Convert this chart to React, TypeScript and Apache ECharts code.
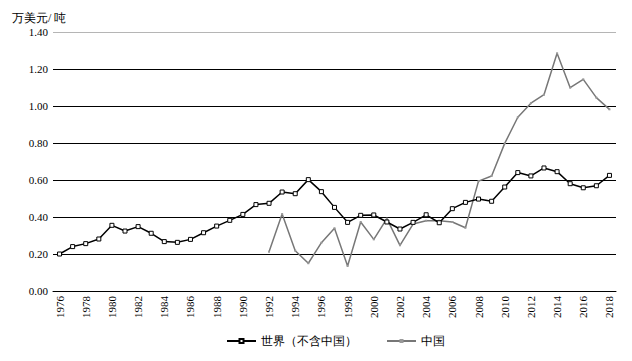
import React, { useEffect, useRef } from "react";
import * as echarts from "echarts";

const years: string[] = [];
for (let y = 1976; y <= 2018; y++) years.push(String(y));

const worldName = "世界（不含中国）";
const chinaName = "中国";

const worldValues = [
  0.20, 0.24, 0.256, 0.281, 0.355, 0.324, 0.348, 0.312, 0.267, 0.263,
  0.279, 0.315, 0.351, 0.382, 0.414, 0.467, 0.474, 0.535, 0.526, 0.602,
  0.537, 0.452, 0.371, 0.409, 0.411, 0.373, 0.335, 0.371, 0.412, 0.369,
  0.445, 0.479, 0.497, 0.485, 0.562, 0.640, 0.622, 0.665, 0.645, 0.58,
  0.558, 0.569, 0.625,
];

const chinaValues: (number | null)[] = [
  null, null, null, null, null, null, null, null, null, null,
  null, null, null, null, null, null, 0.212, 0.416, 0.218, 0.150,
  0.261, 0.339, 0.135, 0.373, 0.279, 0.391, 0.247, 0.362, 0.38, 0.38,
  0.373, 0.342, 0.594, 0.622, 0.798, 0.939, 1.015, 1.061, 1.285, 1.099,
  1.144, 1.045, 0.982,
];

const yTicks = [0, 0.2, 0.4, 0.6, 0.8, 1.0, 1.2, 1.4];

const FONT = "Liberation Serif";

export default function App() {
  const ref = useRef<HTMLDivElement>(null);
  useEffect(() => {
    if (!ref.current) return;
    const chart = echarts.init(ref.current, undefined, { renderer: "svg" });
    chart.setOption({
      animation: false,
      textStyle: { fontFamily: FONT, color: "#000" },
      grid: { left: 53, right: 16, top: 32, bottom: 70 },
      legend: {
        bottom: 9,
        left: 221,
        itemWidth: 29,
        itemHeight: 5,
        itemGap: 29,
        textStyle: { fontFamily: FONT, fontSize: 12, color: "#000" },
        data: [worldName, chinaName],
      },
      xAxis: {
        type: "category",
        data: years,
        boundaryGap: true,
        axisLine: { show: true, lineStyle: { color: "#000", width: 1 } },
        axisTick: { show: false },
        axisLabel: {
          interval: 1,
          rotate: 90,
          fontSize: 11,
          color: "#000",
          fontFamily: FONT,
          margin: 5,
        },
      },
      yAxis: {
        type: "value",
        min: yTicks[0],
        max: yTicks[yTicks.length - 1],
        interval: 0.2,
        name: "万美元/ 吨",
        nameLocation: "end",
        nameGap: 8,
        nameTextStyle: {
          fontFamily: FONT,
          fontSize: 12,
          color: "#000",
          align: "left",
          padding: [0, 0, 0, -41],
        },
        axisLine: { show: false },
        axisTick: { show: false },
        axisLabel: {
          formatter: (v: number) => v.toFixed(2),
          fontSize: 11,
          color: "#000",
          fontFamily: FONT,
          margin: 5,
        },
        splitLine: {
          show: true,
          lineStyle: {
            color: ["#000", "#000", "#000", "#000", "#000", "#000", "#000", "#b5b5b5"],
            width: 1,
          },
        },
      },
      series: [
        {
          name: worldName,
          type: "line",
          data: worldValues,
          symbol: "rect",
          symbolSize: 4,
          showAllSymbol: true,
          itemStyle: { color: "#fff", borderColor: "#000", borderWidth: 1 },
          lineStyle: { color: "#000", width: 1.5 },
          z: 3,
        },
        {
          name: chinaName,
          type: "line",
          data: chinaValues,
          symbol: "rect",
          symbolSize: 2,
          showAllSymbol: true,
          connectNulls: false,
          itemStyle: { color: "#999", borderColor: "#999", borderWidth: 0 },
          lineStyle: { color: "#777", width: 1.5 },
          z: 2,
        },
      ],
    });
    return () => chart.dispose();
  }, []);
  return <div ref={ref} style={{ width: 632, height: 361, position: "absolute", left: 0, top: 0 }} />;
}
